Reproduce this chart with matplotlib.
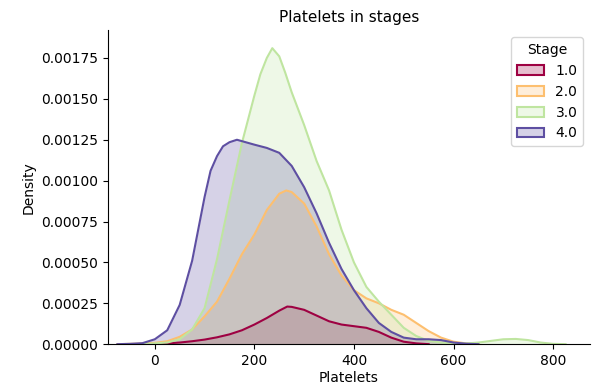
import numpy as np
import matplotlib
matplotlib.use("Agg")
import matplotlib.pyplot as plt
from matplotlib.patches import Patch

# Density curves (density in units of 1e-4)
STAGES = ["1.0", "2.0", "3.0", "4.0"]

x_stage1 = [-50, 0, 25, 50, 75, 100, 125, 150, 175, 200, 225, 250, 266, 275, 300, 325,
            350, 375, 400, 425, 450, 475, 500, 525, 550]
d_stage1 = [0, 0.03, 0.05, 0.1, 0.18, 0.28, 0.42, 0.6, 0.85, 1.2, 1.6, 2.05, 2.3, 2.28,
            2.1, 1.75, 1.4, 1.2, 1.1, 1.0, 0.75, 0.4, 0.15, 0.05, 0]

x_stage2 = [-75, -50, -25, 0, 25, 50, 75, 100, 125, 150, 175, 200, 225, 250, 264, 275,
            300, 325, 350, 375, 400, 425, 450, 475, 500, 525, 550, 575, 600, 625, 650]
d_stage2 = [0, 0.02, 0.04, 0.08, 0.18, 0.45, 0.9, 1.7, 2.6, 4.0, 5.5, 6.7, 8.2, 9.2, 9.4,
            9.3, 8.6, 7.2, 5.5, 4.2, 3.3, 2.8, 2.5, 2.1, 1.8, 1.3, 0.8, 0.4, 0.15, 0.05, 0]

x_stage3 = [-25, 0, 25, 50, 75, 100, 125, 150, 175, 200, 212, 225, 236, 250, 262, 275,
            300, 325, 350, 375, 400, 425, 450, 475, 500, 525, 550, 575, 600, 625, 650,
            675, 700, 725, 750, 775, 800, 825]
d_stage3 = [0, 0.05, 0.1, 0.3, 0.9, 2.2, 5.2, 8.8, 12.3, 15.2, 16.5, 17.5, 18.1, 17.6,
            16.6, 15.4, 13.4, 11.2, 9.4, 7.0, 5.0, 3.5, 2.6, 1.8, 1.0, 0.5, 0.2, 0.1,
            0.05, 0.04, 0.1, 0.2, 0.3, 0.32, 0.25, 0.1, 0.02, 0]

x_stage4 = [-75, -50, -25, 0, 25, 50, 75, 100, 112, 125, 137, 150, 165, 200, 225, 250,
            275, 300, 325, 350, 375, 400, 425, 450, 475, 500, 525, 550, 575, 600, 625, 650]
d_stage4 = [0, 0.02, 0.06, 0.3, 0.85, 2.4, 5.1, 9.0, 10.6, 11.5, 12.1, 12.35, 12.5, 12.2,
            12.0, 11.7, 10.9, 9.6, 8.0, 6.2, 4.6, 3.3, 2.2, 1.3, 0.75, 0.4, 0.3, 0.3,
            0.25, 0.1, 0.03, 0]

SERIES = [(x_stage1, d_stage1), (x_stage2, d_stage2),
          (x_stage3, d_stage3), (x_stage4, d_stage4)]


def main():
    cmap = plt.get_cmap("Spectral")
    colors = [cmap(v) for v in np.linspace(0, 1, len(STAGES))]

    fig = plt.figure(figsize=(5.95, 3.92), dpi=100)
    ax = fig.add_axes([0.1815, 0.122, 0.81, 0.801])

    for (xs, ds), color in zip(SERIES, colors):
        xs = np.asarray(xs, float)
        ys = np.asarray(ds, float) * 1e-4
        ax.fill_between(xs, 0, ys, color=color, alpha=0.25, lw=0)
        ax.plot(xs, ys, color=color, lw=1.5, solid_joinstyle="round")

    ax.set_xlim(-94, 874)
    ax.set_ylim(0, 0.00192)
    ax.set_xticks([0, 200, 400, 600, 800])
    ax.set_yticks(np.arange(0, 0.0018, 0.00025))
    ax.yaxis.set_major_formatter(plt.FormatStrFormatter("%.5f"))
    ax.tick_params(labelsize=10)
    ax.spines["top"].set_visible(False)
    ax.spines["right"].set_visible(False)
    ax.set_xlabel("Platelets", fontsize=10, labelpad=2)
    ax.set_ylabel("Density", fontsize=10)
    ax.set_title("Platelets in stages", fontsize=11)

    handles = [Patch(facecolor=(*c[:3], 0.25), edgecolor=c, lw=1.5) for c in colors]
    ax.legend(handles, STAGES, title="Stage", loc="upper right", fontsize=10,
              title_fontsize=10)

    fig.savefig("out.png", dpi=100)


if __name__ == "__main__":
    main()
